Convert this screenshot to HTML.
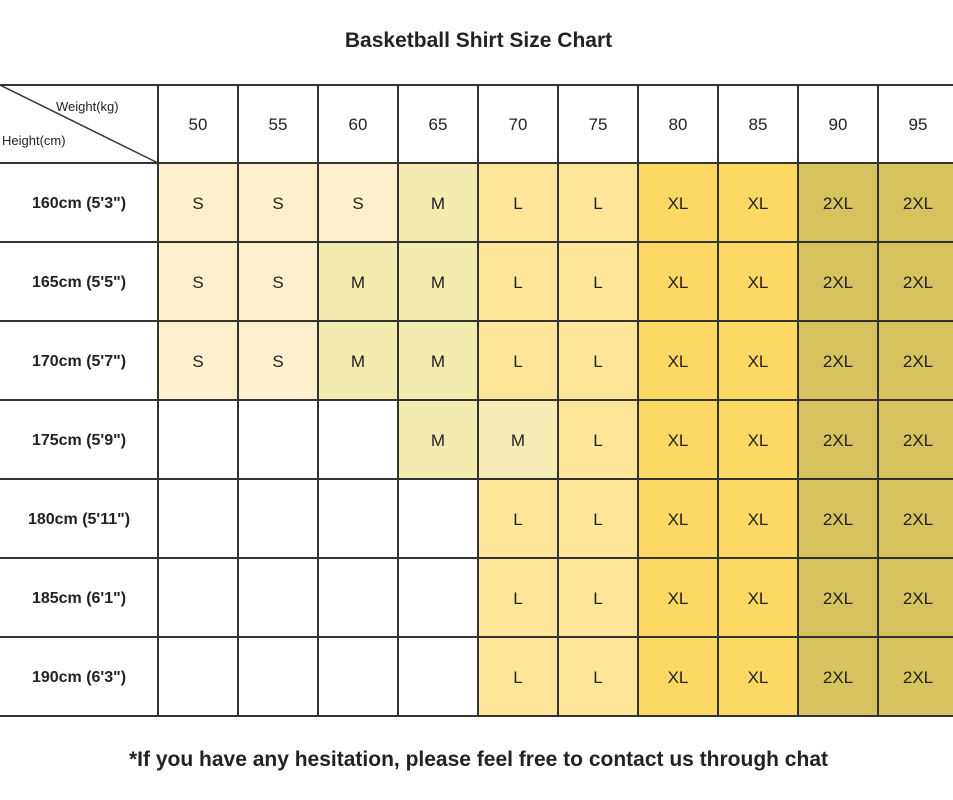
<!DOCTYPE html>
<html><head><style>
body{margin:0;background:#fff;width:953px;height:800px;position:relative;overflow:hidden;font-family:"Liberation Sans","DejaVu Sans",sans-serif;color:#222}
.c{position:absolute;display:flex;align-items:center;justify-content:center;font-size:17px;padding-top:2px;box-sizing:border-box}
.h{position:absolute;background:#333;height:2px}
.v{position:absolute;background:#333;width:2px}
.t{position:absolute;width:953px;text-align:center;font-weight:bold}
</style></head><body>
<div class="t" style="top:29px;font-size:21px;left:2px">Basketball Shirt Size Chart</div>
<div class="t" style="top:748px;font-size:21px;left:2px">*If you have any hesitation, please feel free to contact us through chat</div>
<div id="g"></div>
<svg style="position:absolute;left:0;top:0" width="953" height="800"><line x1="0" y1="85" x2="158" y2="163" stroke="#333" stroke-width="1.5"/></svg>
<div style="position:absolute;left:56px;top:99px;font-size:13px">Weight(kg)</div>
<div style="position:absolute;left:2px;top:133px;font-size:13px">Height(cm)</div>
<script>
const xs=[0,158,238,318,398,478,558,638,718,798,878,958];
const ys=[85,163,242,321,400,479,558,637,716];
const w=[50,55,60,65,70,75,80,85,90,95];
const hs=['160cm (5\'3")','165cm (5\'5")','170cm (5\'7")','175cm (5\'9")','180cm (5\'11")','185cm (6\'1")','190cm (6\'3")'];
const d=["SSSMLLXXZZ","SSMMLLXXZZ","SSMMLLXXZZ","---MMLXXZZ","----LLXXZZ","----LLXXZZ","----LLXXZZ"];
const col={S:'#fdf0cc',M:'#f2ecb0',L:'#fde59a',X:'#fdd863',Z:'#d6c25e'};
const lab={S:'S',M:'M',L:'L',X:'XL',Z:'2XL'};
let h='';
function cell(x0,x1,y0,y1,bg,txt,fw){h+=`<div class="c" style="left:${x0}px;top:${y0}px;width:${x1-x0}px;height:${y1-y0}px;background:${bg};${fw||''}">${txt}</div>`;}
w.forEach((v,i)=>cell(xs[i+1],xs[i+2],ys[0],ys[1],'#fff',v));
hs.forEach((v,r)=>{cell(0,158,ys[r+1],ys[r+2],'#fff',v,'font-weight:bold;font-size:16px;');
 [...d[r]].forEach((k,i)=>{ if(k!=='-'){
   let bg=col[k]; if(r===3&&i===4)bg='#f5edb5';
   cell(xs[i+1],xs[i+2],ys[r+1],ys[r+2],bg,lab[k]);}});});
ys.forEach(y=>h+=`<div class="h" style="left:0;width:953px;top:${y-1}px"></div>`);
xs.slice(1,11).forEach(x=>h+=`<div class="v" style="left:${x-1}px;top:85px;height:631px"></div>`);
document.getElementById('g').innerHTML=h;
</script>
</body></html>
